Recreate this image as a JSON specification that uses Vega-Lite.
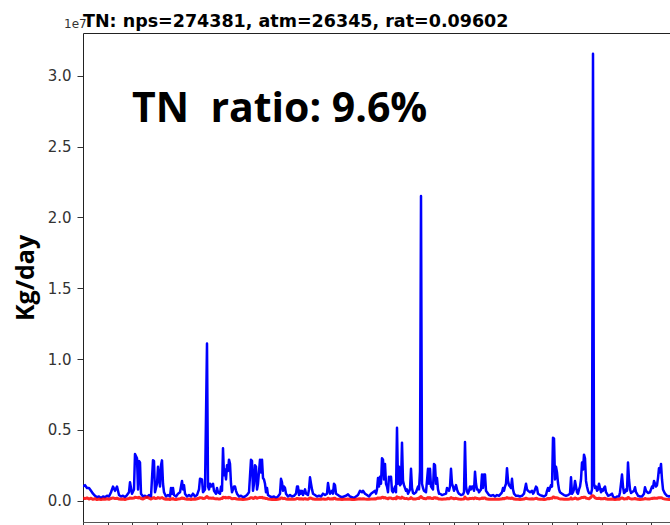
{
"$schema": "https://vega.github.io/schema/vega-lite/v6.json",
"width": 587, "height": 489,
"autosize": "none",
"padding": {"left": 83, "top": 33, "right": 0, "bottom": 3},
"background": "white",
"title": {"text": "TN: nps=274381, atm=26345, rat=0.09602", "anchor": "start", "frame": "group", "font": "DejaVu Sans", "fontSize": 17.5, "fontWeight": "bold", "color": "black", "offset": -12},
"config": {"view": {"stroke": null}, "axis": {"grid": false}},
"data": {"values": [
{"t":0,"nps":0.10,"atm":0.02},{"t":2,"nps":0.11,"atm":0.015},{"t":4,"nps":0.09,"atm":0.02},{"t":6,"nps":0.09,"atm":0.012},{"t":8,"nps":0.07,"atm":0.018},{"t":10,"nps":0.05,"atm":0.01},{"t":12,"nps":0.035,"atm":0.015},{"t":14,"nps":0.025,"atm":0.008},{"t":16,"nps":0.03,"atm":0.012},{"t":18,"nps":0.02,"atm":0.008},{"t":20,"nps":0.03,"atm":0.012},{"t":22,"nps":0.025,"atm":0.01},{"t":24,"nps":0.035,"atm":0.014},{"t":26,"nps":0.03,"atm":0.01},{"t":28,"nps":0.06,"atm":0.016},{"t":30,"nps":0.10,"atm":0.02},{"t":32,"nps":0.07,"atm":0.015},{"t":34,"nps":0.10,"atm":0.018},{"t":36,"nps":0.04,"atm":0.012},{"t":38,"nps":0.03,"atm":0.01},{"t":40,"nps":0.035,"atm":0.012},{"t":42,"nps":0.025,"atm":0.009},{"t":44,"nps":0.04,"atm":0.013},{"t":46,"nps":0.06,"atm":0.016},{"t":47,"nps":0.13,"atm":0.02},{"t":49,"nps":0.05,"atm":0.018},{"t":51,"nps":0.08,"atm":0.02},{"t":52,"nps":0.33,"atm":0.025},{"t":54,"nps":0.30,"atm":0.022},{"t":55,"nps":0.08,"atm":0.02},{"t":56,"nps":0.28,"atm":0.024},{"t":57,"nps":0.27,"atm":0.02},{"t":58,"nps":0.05,"atm":0.016},{"t":60,"nps":0.03,"atm":0.012},{"t":62,"nps":0.035,"atm":0.02},{"t":64,"nps":0.025,"atm":0.025},{"t":66,"nps":0.04,"atm":0.018},{"t":68,"nps":0.03,"atm":0.012},{"t":70,"nps":0.285,"atm":0.02},{"t":71,"nps":0.28,"atm":0.022},{"t":72,"nps":0.06,"atm":0.016},{"t":74,"nps":0.12,"atm":0.018},{"t":75,"nps":0.24,"atm":0.022},{"t":77,"nps":0.10,"atm":0.018},{"t":78,"nps":0.25,"atm":0.02},{"t":79,"nps":0.285,"atm":0.022},{"t":80,"nps":0.12,"atm":0.018},{"t":81,"nps":0.06,"atm":0.014},{"t":83,"nps":0.03,"atm":0.01},{"t":85,"nps":0.04,"atm":0.012},{"t":87,"nps":0.03,"atm":0.009},{"t":88,"nps":0.09,"atm":0.014},{"t":89,"nps":0.05,"atm":0.012},{"t":90,"nps":0.09,"atm":0.015},{"t":91,"nps":0.04,"atm":0.011},{"t":93,"nps":0.03,"atm":0.009},{"t":95,"nps":0.05,"atm":0.012},{"t":97,"nps":0.06,"atm":0.014},{"t":98,"nps":0.10,"atm":0.016},{"t":99,"nps":0.14,"atm":0.02},{"t":100,"nps":0.08,"atm":0.016},{"t":101,"nps":0.11,"atm":0.018},{"t":102,"nps":0.05,"atm":0.013},{"t":104,"nps":0.03,"atm":0.01},{"t":106,"nps":0.04,"atm":0.012},{"t":108,"nps":0.03,"atm":0.009},{"t":110,"nps":0.05,"atm":0.012},{"t":112,"nps":0.03,"atm":0.01},{"t":114,"nps":0.04,"atm":0.014},{"t":116,"nps":0.08,"atm":0.018},{"t":117,"nps":0.155,"atm":0.022},{"t":119,"nps":0.15,"atm":0.02},{"t":120,"nps":0.06,"atm":0.016},{"t":122,"nps":0.08,"atm":0.018},{"t":124,"nps":1.11,"atm":0.03},{"t":125,"nps":0.10,"atm":0.022},{"t":126,"nps":0.08,"atm":0.018},{"t":127,"nps":0.12,"atm":0.02},{"t":128,"nps":0.10,"atm":0.018},{"t":130,"nps":0.12,"atm":0.02},{"t":131,"nps":0.07,"atm":0.016},{"t":133,"nps":0.05,"atm":0.013},{"t":134,"nps":0.09,"atm":0.015},{"t":135,"nps":0.06,"atm":0.013},{"t":137,"nps":0.05,"atm":0.012},{"t":138,"nps":0.10,"atm":0.016},{"t":139,"nps":0.07,"atm":0.015},{"t":140,"nps":0.37,"atm":0.025},{"t":141,"nps":0.18,"atm":0.022},{"t":142,"nps":0.22,"atm":0.024},{"t":143,"nps":0.15,"atm":0.02},{"t":144,"nps":0.25,"atm":0.022},{"t":145,"nps":0.21,"atm":0.02},{"t":146,"nps":0.29,"atm":0.024},{"t":147,"nps":0.26,"atm":0.022},{"t":148,"nps":0.12,"atm":0.018},{"t":149,"nps":0.06,"atm":0.014},{"t":151,"nps":0.10,"atm":0.016},{"t":152,"nps":0.10,"atm":0.016},{"t":153,"nps":0.07,"atm":0.014},{"t":154,"nps":0.05,"atm":0.012},{"t":156,"nps":0.03,"atm":0.01},{"t":158,"nps":0.035,"atm":0.011},{"t":160,"nps":0.025,"atm":0.009},{"t":162,"nps":0.03,"atm":0.01},{"t":164,"nps":0.04,"atm":0.012},{"t":166,"nps":0.06,"atm":0.015},{"t":168,"nps":0.29,"atm":0.022},{"t":169,"nps":0.28,"atm":0.022},{"t":170,"nps":0.07,"atm":0.016},{"t":171,"nps":0.12,"atm":0.018},{"t":172,"nps":0.25,"atm":0.025},{"t":173,"nps":0.24,"atm":0.022},{"t":174,"nps":0.08,"atm":0.018},{"t":175,"nps":0.12,"atm":0.02},{"t":177,"nps":0.29,"atm":0.024},{"t":178,"nps":0.20,"atm":0.022},{"t":179,"nps":0.29,"atm":0.024},{"t":180,"nps":0.16,"atm":0.02},{"t":181,"nps":0.15,"atm":0.02},{"t":182,"nps":0.12,"atm":0.018},{"t":183,"nps":0.06,"atm":0.015},{"t":184,"nps":0.09,"atm":0.016},{"t":185,"nps":0.04,"atm":0.012},{"t":187,"nps":0.03,"atm":0.01},{"t":189,"nps":0.025,"atm":0.009},{"t":191,"nps":0.03,"atm":0.01},{"t":193,"nps":0.02,"atm":0.008},{"t":195,"nps":0.03,"atm":0.01},{"t":197,"nps":0.05,"atm":0.013},{"t":198,"nps":0.155,"atm":0.02},{"t":199,"nps":0.13,"atm":0.02},{"t":200,"nps":0.07,"atm":0.015},{"t":201,"nps":0.10,"atm":0.017},{"t":202,"nps":0.09,"atm":0.016},{"t":203,"nps":0.05,"atm":0.012},{"t":205,"nps":0.03,"atm":0.01},{"t":207,"nps":0.04,"atm":0.012},{"t":209,"nps":0.03,"atm":0.01},{"t":211,"nps":0.035,"atm":0.011},{"t":213,"nps":0.05,"atm":0.013},{"t":214,"nps":0.10,"atm":0.016},{"t":215,"nps":0.10,"atm":0.016},{"t":216,"nps":0.04,"atm":0.012},{"t":217,"nps":0.07,"atm":0.014},{"t":218,"nps":0.05,"atm":0.012},{"t":219,"nps":0.07,"atm":0.014},{"t":220,"nps":0.04,"atm":0.011},{"t":222,"nps":0.08,"atm":0.015},{"t":223,"nps":0.05,"atm":0.012},{"t":225,"nps":0.04,"atm":0.011},{"t":226,"nps":0.08,"atm":0.015},{"t":227,"nps":0.165,"atm":0.02},{"t":228,"nps":0.12,"atm":0.018},{"t":229,"nps":0.08,"atm":0.015},{"t":230,"nps":0.05,"atm":0.012},{"t":232,"nps":0.04,"atm":0.011},{"t":234,"nps":0.03,"atm":0.01},{"t":236,"nps":0.035,"atm":0.011},{"t":238,"nps":0.03,"atm":0.01},{"t":240,"nps":0.05,"atm":0.013},{"t":242,"nps":0.04,"atm":0.011},{"t":244,"nps":0.05,"atm":0.013},{"t":245,"nps":0.125,"atm":0.018},{"t":246,"nps":0.08,"atm":0.015},{"t":247,"nps":0.05,"atm":0.012},{"t":249,"nps":0.07,"atm":0.014},{"t":250,"nps":0.05,"atm":0.012},{"t":251,"nps":0.12,"atm":0.018},{"t":252,"nps":0.11,"atm":0.017},{"t":253,"nps":0.05,"atm":0.012},{"t":255,"nps":0.04,"atm":0.011},{"t":257,"nps":0.03,"atm":0.01},{"t":259,"nps":0.025,"atm":0.009},{"t":261,"nps":0.03,"atm":0.01},{"t":263,"nps":0.035,"atm":0.011},{"t":265,"nps":0.045,"atm":0.012},{"t":267,"nps":0.03,"atm":0.01},{"t":269,"nps":0.025,"atm":0.009},{"t":271,"nps":0.02,"atm":0.008},{"t":273,"nps":0.03,"atm":0.01},{"t":275,"nps":0.04,"atm":0.012},{"t":277,"nps":0.07,"atm":0.014},{"t":279,"nps":0.06,"atm":0.013},{"t":280,"nps":0.07,"atm":0.014},{"t":282,"nps":0.05,"atm":0.012},{"t":284,"nps":0.04,"atm":0.011},{"t":286,"nps":0.03,"atm":0.01},{"t":288,"nps":0.05,"atm":0.012},{"t":290,"nps":0.06,"atm":0.013},{"t":292,"nps":0.07,"atm":0.014},{"t":293,"nps":0.05,"atm":0.013},{"t":294,"nps":0.08,"atm":0.016},{"t":295,"nps":0.16,"atm":0.02},{"t":296,"nps":0.10,"atm":0.018},{"t":297,"nps":0.17,"atm":0.02},{"t":298,"nps":0.12,"atm":0.018},{"t":299,"nps":0.30,"atm":0.024},{"t":300,"nps":0.29,"atm":0.024},{"t":301,"nps":0.15,"atm":0.02},{"t":302,"nps":0.26,"atm":0.022},{"t":303,"nps":0.12,"atm":0.018},{"t":304,"nps":0.10,"atm":0.017},{"t":305,"nps":0.06,"atm":0.014},{"t":306,"nps":0.17,"atm":0.02},{"t":307,"nps":0.16,"atm":0.02},{"t":308,"nps":0.17,"atm":0.02},{"t":309,"nps":0.07,"atm":0.015},{"t":310,"nps":0.06,"atm":0.014},{"t":311,"nps":0.08,"atm":0.016},{"t":312,"nps":0.10,"atm":0.017},{"t":313,"nps":0.06,"atm":0.014},{"t":314,"nps":0.515,"atm":0.028},{"t":315,"nps":0.12,"atm":0.02},{"t":316,"nps":0.24,"atm":0.022},{"t":317,"nps":0.11,"atm":0.018},{"t":318,"nps":0.12,"atm":0.018},{"t":319,"nps":0.41,"atm":0.026},{"t":320,"nps":0.14,"atm":0.02},{"t":321,"nps":0.11,"atm":0.018},{"t":322,"nps":0.09,"atm":0.016},{"t":323,"nps":0.07,"atm":0.015},{"t":324,"nps":0.08,"atm":0.015},{"t":325,"nps":0.05,"atm":0.013},{"t":327,"nps":0.08,"atm":0.015},{"t":328,"nps":0.225,"atm":0.022},{"t":329,"nps":0.09,"atm":0.016},{"t":330,"nps":0.055,"atm":0.013},{"t":331,"nps":0.05,"atm":0.012},{"t":333,"nps":0.06,"atm":0.013},{"t":335,"nps":0.10,"atm":0.017},{"t":336,"nps":0.08,"atm":0.016},{"t":337,"nps":0.21,"atm":0.024},{"t":338,"nps":2.15,"atm":0.03},{"t":339,"nps":0.12,"atm":0.022},{"t":340,"nps":0.09,"atm":0.018},{"t":341,"nps":0.07,"atm":0.015},{"t":343,"nps":0.06,"atm":0.014},{"t":345,"nps":0.225,"atm":0.022},{"t":346,"nps":0.12,"atm":0.018},{"t":347,"nps":0.225,"atm":0.022},{"t":348,"nps":0.10,"atm":0.017},{"t":349,"nps":0.09,"atm":0.016},{"t":350,"nps":0.08,"atm":0.015},{"t":351,"nps":0.26,"atm":0.022},{"t":352,"nps":0.25,"atm":0.022},{"t":353,"nps":0.12,"atm":0.018},{"t":354,"nps":0.16,"atm":0.02},{"t":355,"nps":0.08,"atm":0.015},{"t":356,"nps":0.05,"atm":0.012},{"t":357,"nps":0.05,"atm":0.012},{"t":359,"nps":0.04,"atm":0.011},{"t":361,"nps":0.045,"atm":0.012},{"t":363,"nps":0.05,"atm":0.012},{"t":364,"nps":0.09,"atm":0.016},{"t":366,"nps":0.07,"atm":0.014},{"t":367,"nps":0.10,"atm":0.017},{"t":368,"nps":0.225,"atm":0.022},{"t":369,"nps":0.12,"atm":0.018},{"t":370,"nps":0.10,"atm":0.017},{"t":371,"nps":0.07,"atm":0.014},{"t":373,"nps":0.11,"atm":0.017},{"t":374,"nps":0.08,"atm":0.015},{"t":375,"nps":0.06,"atm":0.013},{"t":376,"nps":0.05,"atm":0.012},{"t":378,"nps":0.04,"atm":0.011},{"t":380,"nps":0.045,"atm":0.012},{"t":381,"nps":0.06,"atm":0.013},{"t":382,"nps":0.415,"atm":0.026},{"t":383,"nps":0.10,"atm":0.017},{"t":384,"nps":0.065,"atm":0.014},{"t":385,"nps":0.05,"atm":0.012},{"t":386,"nps":0.07,"atm":0.014},{"t":387,"nps":0.10,"atm":0.017},{"t":388,"nps":0.08,"atm":0.015},{"t":389,"nps":0.10,"atm":0.017},{"t":390,"nps":0.10,"atm":0.017},{"t":391,"nps":0.07,"atm":0.014},{"t":392,"nps":0.205,"atm":0.021},{"t":393,"nps":0.12,"atm":0.018},{"t":394,"nps":0.08,"atm":0.015},{"t":395,"nps":0.08,"atm":0.015},{"t":396,"nps":0.06,"atm":0.013},{"t":397,"nps":0.07,"atm":0.014},{"t":398,"nps":0.08,"atm":0.015},{"t":399,"nps":0.185,"atm":0.02},{"t":400,"nps":0.09,"atm":0.016},{"t":401,"nps":0.185,"atm":0.02},{"t":402,"nps":0.185,"atm":0.02},{"t":403,"nps":0.07,"atm":0.014},{"t":404,"nps":0.06,"atm":0.013},{"t":406,"nps":0.04,"atm":0.011},{"t":408,"nps":0.035,"atm":0.01},{"t":410,"nps":0.04,"atm":0.011},{"t":412,"nps":0.03,"atm":0.01},{"t":414,"nps":0.04,"atm":0.011},{"t":416,"nps":0.035,"atm":0.01},{"t":418,"nps":0.05,"atm":0.012},{"t":419,"nps":0.06,"atm":0.013},{"t":420,"nps":0.09,"atm":0.016},{"t":421,"nps":0.07,"atm":0.014},{"t":422,"nps":0.10,"atm":0.017},{"t":423,"nps":0.12,"atm":0.018},{"t":424,"nps":0.23,"atm":0.022},{"t":425,"nps":0.14,"atm":0.019},{"t":426,"nps":0.11,"atm":0.017},{"t":427,"nps":0.10,"atm":0.017},{"t":428,"nps":0.09,"atm":0.016},{"t":429,"nps":0.155,"atm":0.02},{"t":430,"nps":0.08,"atm":0.015},{"t":431,"nps":0.05,"atm":0.012},{"t":433,"nps":0.035,"atm":0.01},{"t":435,"nps":0.035,"atm":0.01},{"t":437,"nps":0.03,"atm":0.009},{"t":439,"nps":0.035,"atm":0.01},{"t":441,"nps":0.05,"atm":0.012},{"t":443,"nps":0.12,"atm":0.018},{"t":444,"nps":0.08,"atm":0.015},{"t":445,"nps":0.07,"atm":0.014},{"t":447,"nps":0.06,"atm":0.013},{"t":449,"nps":0.07,"atm":0.014},{"t":450,"nps":0.05,"atm":0.012},{"t":451,"nps":0.06,"atm":0.013},{"t":453,"nps":0.10,"atm":0.017},{"t":454,"nps":0.09,"atm":0.016},{"t":455,"nps":0.05,"atm":0.012},{"t":457,"nps":0.04,"atm":0.011},{"t":459,"nps":0.035,"atm":0.01},{"t":461,"nps":0.03,"atm":0.009},{"t":463,"nps":0.04,"atm":0.011},{"t":464,"nps":0.07,"atm":0.014},{"t":465,"nps":0.09,"atm":0.016},{"t":466,"nps":0.07,"atm":0.014},{"t":467,"nps":0.09,"atm":0.016},{"t":468,"nps":0.11,"atm":0.017},{"t":469,"nps":0.10,"atm":0.017},{"t":470,"nps":0.445,"atm":0.026},{"t":471,"nps":0.44,"atm":0.026},{"t":472,"nps":0.15,"atm":0.02},{"t":473,"nps":0.24,"atm":0.022},{"t":474,"nps":0.20,"atm":0.021},{"t":475,"nps":0.125,"atm":0.018},{"t":476,"nps":0.08,"atm":0.015},{"t":477,"nps":0.06,"atm":0.013},{"t":479,"nps":0.05,"atm":0.012},{"t":481,"nps":0.04,"atm":0.011},{"t":483,"nps":0.035,"atm":0.01},{"t":485,"nps":0.04,"atm":0.011},{"t":487,"nps":0.05,"atm":0.012},{"t":488,"nps":0.165,"atm":0.02},{"t":489,"nps":0.05,"atm":0.012},{"t":490,"nps":0.06,"atm":0.013},{"t":491,"nps":0.08,"atm":0.015},{"t":492,"nps":0.14,"atm":0.019},{"t":493,"nps":0.10,"atm":0.017},{"t":494,"nps":0.06,"atm":0.013},{"t":495,"nps":0.05,"atm":0.012},{"t":496,"nps":0.08,"atm":0.015},{"t":497,"nps":0.10,"atm":0.017},{"t":498,"nps":0.15,"atm":0.02},{"t":499,"nps":0.27,"atm":0.023},{"t":500,"nps":0.22,"atm":0.022},{"t":501,"nps":0.325,"atm":0.025},{"t":502,"nps":0.30,"atm":0.025},{"t":503,"nps":0.14,"atm":0.019},{"t":504,"nps":0.10,"atm":0.017},{"t":505,"nps":0.07,"atm":0.015},{"t":506,"nps":0.055,"atm":0.014},{"t":508,"nps":0.05,"atm":0.025},{"t":509,"nps":0.08,"atm":0.035},{"t":510,"nps":3.155,"atm":0.035},{"t":511,"nps":0.12,"atm":0.03},{"t":512,"nps":0.09,"atm":0.02},{"t":513,"nps":0.10,"atm":0.018},{"t":514,"nps":0.07,"atm":0.015},{"t":515,"nps":0.08,"atm":0.015},{"t":516,"nps":0.12,"atm":0.018},{"t":517,"nps":0.09,"atm":0.016},{"t":518,"nps":0.06,"atm":0.013},{"t":519,"nps":0.08,"atm":0.015},{"t":520,"nps":0.07,"atm":0.014},{"t":521,"nps":0.09,"atm":0.016},{"t":522,"nps":0.10,"atm":0.017},{"t":523,"nps":0.06,"atm":0.013},{"t":524,"nps":0.05,"atm":0.012},{"t":525,"nps":0.035,"atm":0.01},{"t":527,"nps":0.04,"atm":0.011},{"t":529,"nps":0.05,"atm":0.012},{"t":530,"nps":0.03,"atm":0.01},{"t":532,"nps":0.02,"atm":0.008},{"t":534,"nps":0.03,"atm":0.01},{"t":536,"nps":0.03,"atm":0.01},{"t":537,"nps":0.06,"atm":0.013},{"t":538,"nps":0.12,"atm":0.018},{"t":539,"nps":0.185,"atm":0.02},{"t":540,"nps":0.10,"atm":0.017},{"t":541,"nps":0.055,"atm":0.013},{"t":542,"nps":0.06,"atm":0.013},{"t":543,"nps":0.08,"atm":0.015},{"t":544,"nps":0.07,"atm":0.014},{"t":545,"nps":0.27,"atm":0.023},{"t":546,"nps":0.15,"atm":0.02},{"t":547,"nps":0.08,"atm":0.015},{"t":548,"nps":0.055,"atm":0.013},{"t":549,"nps":0.06,"atm":0.013},{"t":551,"nps":0.07,"atm":0.014},{"t":552,"nps":0.095,"atm":0.016},{"t":553,"nps":0.06,"atm":0.013},{"t":554,"nps":0.05,"atm":0.012},{"t":555,"nps":0.035,"atm":0.01},{"t":557,"nps":0.03,"atm":0.009},{"t":559,"nps":0.03,"atm":0.01},{"t":561,"nps":0.05,"atm":0.012},{"t":562,"nps":0.095,"atm":0.016},{"t":563,"nps":0.07,"atm":0.014},{"t":565,"nps":0.055,"atm":0.013},{"t":567,"nps":0.06,"atm":0.013},{"t":568,"nps":0.08,"atm":0.015},{"t":569,"nps":0.10,"atm":0.017},{"t":570,"nps":0.09,"atm":0.016},{"t":571,"nps":0.14,"atm":0.019},{"t":572,"nps":0.12,"atm":0.018},{"t":573,"nps":0.10,"atm":0.017},{"t":574,"nps":0.11,"atm":0.017},{"t":575,"nps":0.16,"atm":0.02},{"t":576,"nps":0.23,"atm":0.022},{"t":577,"nps":0.20,"atm":0.021},{"t":578,"nps":0.26,"atm":0.022},{"t":579,"nps":0.15,"atm":0.02},{"t":580,"nps":0.08,"atm":0.015},{"t":582,"nps":0.05,"atm":0.012},{"t":584,"nps":0.035,"atm":0.01},{"t":586,"nps":0.03,"atm":0.009},{"t":588,"nps":0.035,"atm":0.01}
]},
"layer": [
{"mark": {"type": "line", "color": "#0000ff", "strokeWidth": 2.5, "strokeJoin": "round", "clip": true},
 "encoding": {
  "x": {"field": "t", "type": "quantitative", "scale": {"domain": [0, 587], "nice": false, "zero": false},
        "axis": {"orient": "bottom", "values": [0,24.7,49.4,74.1,98.8,123.5,148.2,172.9,197.6,222.3,247,271.7,296.4,321.1,345.8,370.5,395.2,419.9,444.6,469.3,494,518.7,543.4,568.1], "labels": false, "ticks": true, "tickSize": 6, "tickColor": "#333", "domainColor": "#555", "title": null}},
  "y": {"field": "nps", "type": "quantitative", "title": "Kg/day", "scale": {"domain": [-0.15, 3.301], "nice": false, "zero": false},
        "axis": {"values": [0,0.5,1,1.5,2,2.5,3], "format": ".1f", "tickSize": 6, "tickColor": "#333", "domainColor": "#222", "labelFont": "DejaVu Sans", "labelFontSize": 15, "labelColor": "#333", "labelPadding": 6, "titleFont": "Open Sans", "titleFontSize": 25, "titleFontWeight": "bold", "titleColor": "black", "titlePadding": 9}}
 }},
{"mark": {"type": "line", "color": "#ff0000", "strokeWidth": 3, "opacity": 0.85, "strokeJoin": "round", "clip": true},
 "encoding": {
  "x": {"field": "t", "type": "quantitative", "axis": {"orient": "top", "labels": false, "ticks": false, "domainColor": "#222", "title": null}},
  "y": {"field": "atm", "type": "quantitative", "title": "Kg/day"}
 }},
{"data": {"values": [{"label": "TN\u00a0\u00a0ratio: 9.6%"}]},
 "mark": {"type": "text", "font": "Open Sans", "fontSize": 41, "fontWeight": "bold", "align": "left", "baseline": "alphabetic", "color": "black"},
 "encoding": {"x": {"datum": 49, "axis": null}, "y": {"datum": 2.673}, "text": {"field": "label"}}},
{"data": {"values": [{"label": "1e7"}]},
 "mark": {"type": "text", "font": "DejaVu Sans", "fontSize": 12, "align": "left", "baseline": "alphabetic", "dx": -19, "dy": -5, "color": "#333"},
 "encoding": {"x": {"datum": 0, "axis": null}, "y": {"datum": 3.301}, "text": {"field": "label"}}}
],
"resolve": {"axis": {"x": "independent"}}
}
